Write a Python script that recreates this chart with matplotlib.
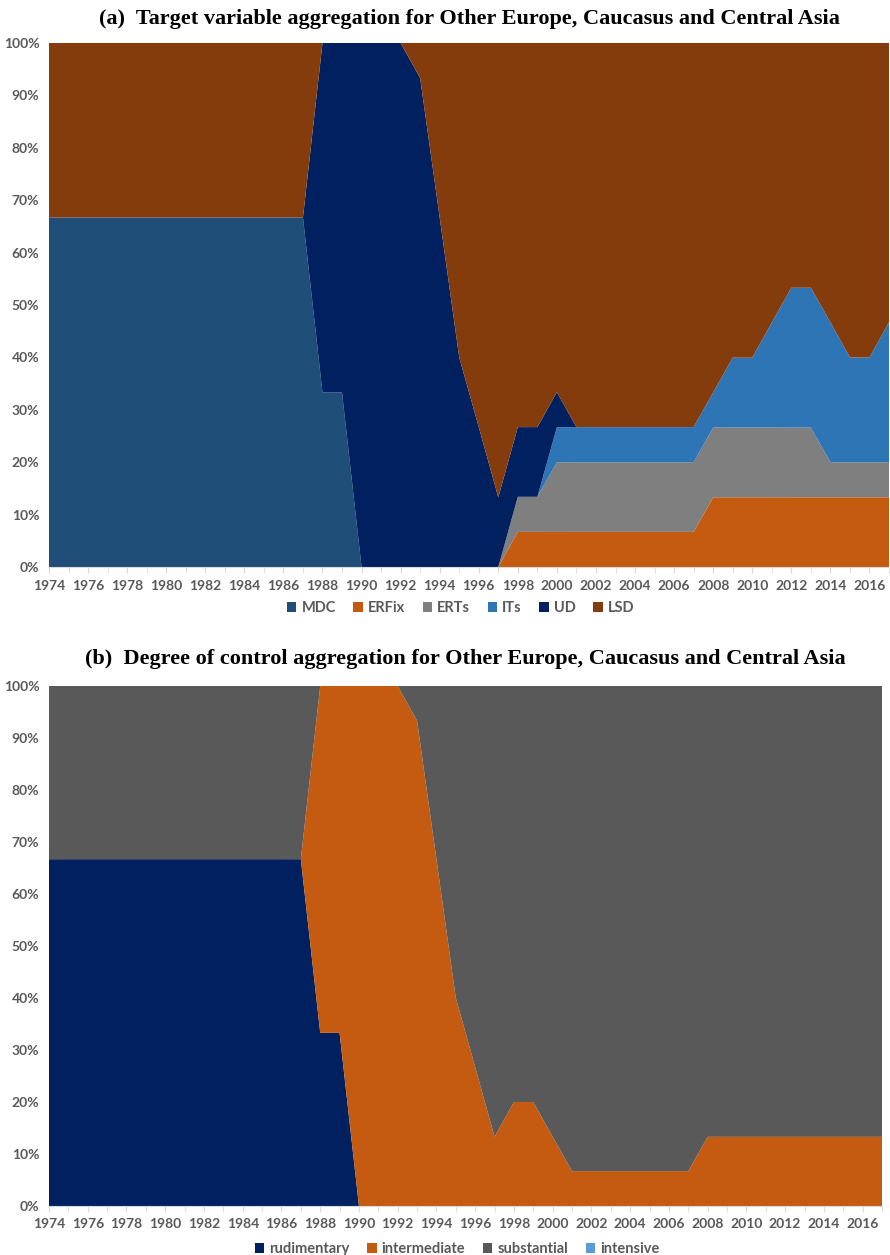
import numpy as np
import matplotlib
matplotlib.use("Agg")
import matplotlib.pyplot as plt
from matplotlib.patches import Patch
from matplotlib.ticker import MultipleLocator, FuncFormatter

years = list(range(1974, 2018))

# (a) target variable shares, %
mdc = [66.7, 66.7, 66.7, 66.7, 66.7, 66.7, 66.7, 66.7, 66.7, 66.7, 66.7, 66.7, 66.7, 66.7,
       33.3, 33.3, 0, 0, 0, 0, 0, 0, 0, 0, 0, 0, 0, 0, 0, 0,
       0, 0, 0, 0, 0, 0, 0, 0, 0, 0, 0, 0, 0, 0]
erfix = [0, 0, 0, 0, 0, 0, 0, 0, 0, 0, 0, 0, 0, 0,
         0, 0, 0, 0, 0, 0, 0, 0, 0, 0, 6.7, 6.7, 6.7, 6.7, 6.7, 6.7,
         6.7, 6.7, 6.7, 6.7, 13.3, 13.3, 13.3, 13.3, 13.3, 13.3, 13.3, 13.3, 13.3, 13.3]
erts = [0, 0, 0, 0, 0, 0, 0, 0, 0, 0, 0, 0, 0, 0,
        0, 0, 0, 0, 0, 0, 0, 0, 0, 0, 6.7, 6.7, 13.3, 13.3, 13.3, 13.3,
        13.3, 13.3, 13.3, 13.3, 13.3, 13.3, 13.3, 13.3, 13.3, 13.3, 6.7, 6.7, 6.7, 6.7]
its = [0, 0, 0, 0, 0, 0, 0, 0, 0, 0, 0, 0, 0, 0,
       0, 0, 0, 0, 0, 0, 0, 0, 0, 0, 0, 0, 6.7, 6.7, 6.7, 6.7,
       6.7, 6.7, 6.7, 6.7, 6.7, 13.3, 13.3, 20, 26.7, 26.7, 26.7, 20, 20, 26.7]
ud = [0, 0, 0, 0, 0, 0, 0, 0, 0, 0, 0, 0, 0, 0,
      66.7, 66.7, 100, 100, 100, 93.3, 66.7, 40, 26.7, 13.3, 13.3, 13.3, 6.7, 0, 0, 0,
      0, 0, 0, 0, 0, 0, 0, 0, 0, 0, 0, 0, 0, 0]
lsd = [33.3, 33.3, 33.3, 33.3, 33.3, 33.3, 33.3, 33.3, 33.3, 33.3, 33.3, 33.3, 33.3, 33.3,
       0, 0, 0, 0, 0, 6.7, 33.3, 60, 73.3, 86.7, 73.3, 73.3, 66.7, 73.3, 73.3, 73.3,
       73.3, 73.3, 73.3, 73.3, 66.7, 60, 60, 53.3, 46.7, 46.7, 53.3, 60, 60, 53.3]

# (b) degree of control shares, %
rudimentary = [66.7, 66.7, 66.7, 66.7, 66.7, 66.7, 66.7, 66.7, 66.7, 66.7, 66.7, 66.7, 66.7, 66.7,
               33.3, 33.3, 0, 0, 0, 0, 0, 0, 0, 0, 0, 0, 0, 0, 0, 0,
               0, 0, 0, 0, 0, 0, 0, 0, 0, 0, 0, 0, 0, 0]
intermediate = [0, 0, 0, 0, 0, 0, 0, 0, 0, 0, 0, 0, 0, 0,
                66.7, 66.7, 100, 100, 100, 93.3, 66.7, 40, 26.7, 13.3, 20, 20, 13.3, 6.7, 6.7, 6.7,
                6.7, 6.7, 6.7, 6.7, 13.3, 13.3, 13.3, 13.3, 13.3, 13.3, 13.3, 13.3, 13.3, 13.3]
substantial = [33.3, 33.3, 33.3, 33.3, 33.3, 33.3, 33.3, 33.3, 33.3, 33.3, 33.3, 33.3, 33.3, 33.3,
               0, 0, 0, 0, 0, 6.7, 33.3, 60, 73.3, 86.7, 80, 80, 86.7, 93.3, 93.3, 93.3,
               93.3, 93.3, 93.3, 93.3, 86.7, 86.7, 86.7, 86.7, 86.7, 86.7, 86.7, 86.7, 86.7, 86.7]
intensive = [0] * len(years)

labels_a = ["MDC", "ERFix", "ERTs", "ITs", "UD", "LSD"]
colors_a = ["#1F4E79", "#C55A11", "#7F7F7F", "#2E75B6", "#002060", "#843C0C"]
labels_b = ["rudimentary", "intermediate", "substantial", "intensive"]
colors_b = ["#002060", "#C55A11", "#595959", "#5B9BD5"]

TXT = "#595959"
SANS = ["Lato", "DejaVu Sans"]


def to_share(series):
    # 100% stacked: normalise each year to its total
    arr = np.array(series, dtype=float)
    tot = arr.sum(axis=0)
    return arr / tot * 100


def draw(ax, series, colors, labels, title, leg_y, title_pad):
    ax.stackplot(years, *to_share(series), colors=colors, linewidth=0, antialiased=True)
    ax.set_xlim(1974, 2017)
    ax.set_ylim(0, 100)
    for s in ["top", "right", "left"]:
        ax.spines[s].set_visible(False)
    ax.spines["bottom"].set_color("#D9D9D9")
    ax.xaxis.set_major_locator(MultipleLocator(2))
    ax.xaxis.set_minor_locator(MultipleLocator(1))
    ax.tick_params(axis="x", which="both", length=4, color="#D9D9D9", pad=5)
    ax.tick_params(axis="y", length=0, pad=7)
    ax.yaxis.set_major_locator(MultipleLocator(10))
    ax.yaxis.set_major_formatter(FuncFormatter(lambda v, p: f"{int(round(v))}%"))
    for lab in ax.get_xticklabels() + ax.get_yticklabels():
        lab.set_fontfamily(SANS)
        lab.set_fontweight("bold")
        lab.set_fontsize(10)
        lab.set_color(TXT)
    handles = [Patch(facecolor=c, edgecolor="none") for c in colors]
    leg = ax.legend(handles, labels, loc="center", bbox_to_anchor=(0.49, leg_y),
                    ncol=len(labels), frameon=False, handlelength=0.65, handleheight=0.65,
                    handletextpad=0.35, columnspacing=1.2, borderpad=0,
                    prop=dict(family=SANS, weight="bold", size=10.5))
    for t in leg.get_texts():
        t.set_color(TXT)
    ax.set_title(title, fontfamily=["Liberation Serif", "DejaVu Serif"], fontweight="bold",
                 fontsize=16, pad=title_pad, color="black")


fig = plt.figure(figsize=(8.9, 12.55), dpi=100)
H = 1255.0
W = 890.0
ax_a = fig.add_axes([49 / W, 1 - 567 / H, (889 - 49) / W, (567 - 43) / H])
ax_b = fig.add_axes([49 / W, 1 - 1206 / H, (882 - 49) / W, (1206 - 686) / H])

draw(ax_a, [mdc, erfix, erts, its, ud, lsd], colors_a, labels_a,
     "(a)  Target variable aggregation for Other Europe, Caucasus and Central Asia",
     -41 / 524, 14)
draw(ax_b, [rudimentary, intermediate, substantial, intensive], colors_b, labels_b,
     "(b)  Degree of control aggregation for Other Europe, Caucasus and Central Asia",
     -43 / 520, 16)

fig.savefig("out.png", dpi=100)
